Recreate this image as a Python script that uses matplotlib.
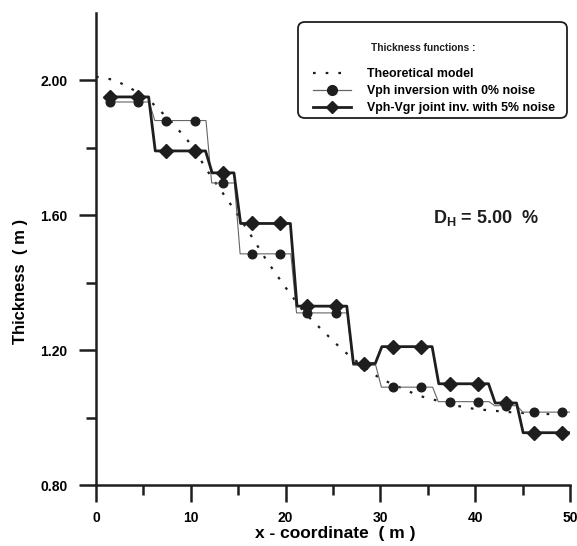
import matplotlib
matplotlib.use("Agg")
import matplotlib.pyplot as plt
from matplotlib.lines import Line2D
from matplotlib.patches import FancyBboxPatch
import numpy as np

plt.rcParams['font.family'] = ['Liberation Sans', 'DejaVu Sans']
plt.rcParams['font.weight'] = 'bold'
plt.rcParams['mathtext.fontset'] = 'custom'
plt.rcParams['mathtext.rm'] = 'Liberation Sans:bold'
plt.rcParams['mathtext.bf'] = 'Liberation Sans:bold'
plt.rcParams['mathtext.default'] = 'rm'

# Theoretical model
theo_x = [0, 2, 4, 6, 8, 10, 12, 14, 16, 18, 20, 22, 24, 26, 28, 30, 32, 34, 36, 38, 40, 42, 44, 46, 48, 50]
theo_y = [2.01, 2.00, 1.97, 1.93, 1.875, 1.81, 1.72, 1.64, 1.555, 1.465, 1.385, 1.31, 1.255, 1.20,
          1.155, 1.115, 1.09, 1.065, 1.05, 1.035, 1.025, 1.02, 1.015, 1.012, 1.01, 1.008]

# Sample positions
pts_x = [1.5, 4.4, 7.4, 10.4, 13.4, 16.4, 19.4, 22.3, 25.3, 28.3, 31.3, 34.3, 37.3, 40.3, 43.2, 46.2, 49.2]
# Vph inversion with 0% noise
vph_y = [1.935, 1.935, 1.88, 1.88, 1.695, 1.485, 1.485, 1.31, 1.31, 1.155, 1.09, 1.09, 1.047, 1.047,
         1.035, 1.016, 1.016]
# Vph-Vgr joint inversion with 5% noise
joint_y = [1.95, 1.95, 1.79, 1.79, 1.725, 1.575, 1.575, 1.33, 1.33, 1.16, 1.21, 1.21, 1.10, 1.10,
           1.043, 0.955, 0.955]

x_end = 50.0

W, H = 577, 546


def step_path(xs, ys, w=0.4, xend=None):
    px, py = [], []
    for i in range(len(xs)):
        px.append(xs[i]); py.append(ys[i])
        if i + 1 < len(xs) and ys[i + 1] != ys[i]:
            m = 0.5 * (xs[i] + xs[i + 1])
            px += [m - w, m + w]; py += [ys[i], ys[i + 1]]
    if xend is not None:
        px.append(xend); py.append(ys[-1])
    return px, py


fig = plt.figure(figsize=(5.77, 5.46), dpi=100)
ax = fig.add_axes([0.1664, 0.1117, 0.8216, 0.8653])

col = '#1e1e1e'

ax.plot(theo_x, theo_y, color=col, lw=1.6, ls=(0, (1.2, 4.5)))

vx, vy = step_path(pts_x, vph_y, w=0.3, xend=x_end)
ax.plot(vx, vy, color='#666666', lw=0.8)
ax.plot(pts_x, vph_y, ls='none', marker='o', ms=6.2, color=col)

jx, jy = step_path(pts_x, joint_y, w=0.35, xend=x_end)
ax.plot(jx, jy, color=col, lw=2.0)
ax.plot(pts_x, joint_y, ls='none', marker='D', ms=7.5, color=col)

ax.set_xlim(0, 50)
ax.set_ylim(0.8, 2.2)
ax.set_xticks([0, 10, 20, 30, 40, 50])
ax.set_xticks([5, 15, 25, 35, 45], minor=True)
ax.set_yticks([0.8, 1.2, 1.6, 2.0])
ax.set_yticks([1.0, 1.4, 1.8], minor=True)
ax.set_yticklabels(['0.80', '1.20', '1.60', '2.00'])
ax.set_xticklabels(['0', '10', '20', '30', '40', '50'])

for s in ['top', 'right']:
    ax.spines[s].set_visible(False)
for s in ['left', 'bottom']:
    ax.spines[s].set_linewidth(1.8)
    ax.spines[s].set_color(col)
ax.tick_params(which='major', length=12.5, width=1.8, color=col, labelsize=10)
ax.tick_params(which='minor', length=7, width=1.8, color=col)
ax.tick_params(axis='y', which='major', pad=8)
ax.tick_params(axis='x', which='major', pad=6)
for lab in ax.get_xticklabels() + ax.get_yticklabels():
    lab.set_fontweight('bold')

ax.set_xlabel('x - coordinate  ( m )', fontsize=12.5, fontweight='bold')
ax.xaxis.set_label_coords(0.504, -0.086)
ax.set_ylabel('Thickness  ( m )', fontsize=12, fontweight='bold')
ax.yaxis.set_label_coords(-0.143, 0.43)

ax.text(0.823, 0.565, r'D$_{\mathrm{H}}$ = 5.00  %', transform=ax.transAxes,
        fontsize=13, fontweight='bold', color=col, ha='center', va='center')

# Legend box
box = FancyBboxPatch((298 / W, 1 - 118 / H), (567 - 298) / W, (118 - 22) / H,
                     boxstyle='round,pad=0,rounding_size=0.012', transform=fig.transFigure,
                     facecolor='white', edgecolor=col, lw=1.3, zorder=5)
fig.patches.append(box)
fig.text(423 / W, 1 - 48 / H, 'Thickness functions :', fontsize=7.3, fontweight='bold',
         ha='center', va='center', color=col, zorder=6)

handles = [
    Line2D([], [], color=col, lw=1.6, ls=(0, (1.2, 4.5))),
    Line2D([], [], color='#666666', lw=0.9, marker='o', ms=7, mfc=col, mec=col),
    Line2D([], [], color=col, lw=2.0, marker='D', ms=6.5, mfc=col, mec=col),
]
labels = ['Theoretical model', 'Vph inversion with 0% noise', 'Vph-Vgr joint inv. with 5% noise']
leg = fig.legend(handles, labels, loc='upper left',
                 bbox_to_anchor=(313 / W, 1 - 68 / H), bbox_transform=fig.transFigure,
                 prop={'size': 8.9, 'weight': 'bold'}, frameon=False,
                 handlelength=3.05, borderpad=0, labelspacing=0.42, handletextpad=1.3,
                 borderaxespad=0)
leg.set_zorder(7)

fig.savefig('out.png', dpi=100)
